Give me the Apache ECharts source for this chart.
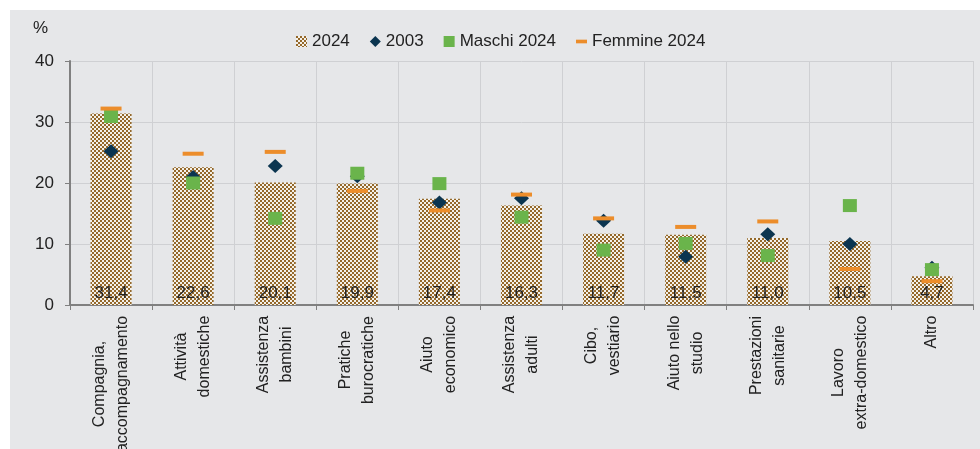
<!DOCTYPE html>
<html>
<head>
<meta charset="utf-8">
<script src="https://cdn.jsdelivr.net/npm/echarts@6/dist/echarts.min.js"></script>
<style>
  body { margin: 0; background: #ffffff; }
  #chart { position: absolute; left: 10px; top: 10px; width: 970px; height: 439px; background: #e6e7e9; }
</style>
</head>
<body>
<div id="chart"></div>
<script>
// categorie e valori (%)
var categories = ['Compagnia,\naccompagnamento', 'Attività\ndomestiche', 'Assistenza\nbambini', 'Pratiche\nburocratiche',
  'Aiuto\neconomico', 'Assistenza\nadulti', 'Cibo,\nvestiario', 'Aiuto nello\nstudio', 'Prestazioni\nsanitarie',
  'Lavoro\nextra-domestico', 'Altro'];
var total2024 = [31.4, 22.6, 20.1, 19.9, 17.4, 16.3, 11.7, 11.5, 11.0, 10.5, 4.7];
var total2003 = [25.2, 21.0, 22.8, 21.1, 16.8, 17.5, 13.8, 7.9, 11.6, 10.0, 6.1];
var maschi2024 = [30.9, 20.0, 14.2, 21.6, 19.9, 14.4, 9.0, 10.1, 8.1, 16.3, 5.8];
var femmine2024 = [32.2, 24.8, 25.1, 18.7, 15.5, 18.1, 14.2, 12.8, 13.7, 5.9, 3.9];
var yTicks = [0, 10, 20, 30, 40];

var font = '"Liberation Sans", Arial, sans-serif';
var labelSize = 16;

// motivo a scacchi delle barre
var pat = document.createElement('canvas');
pat.width = 4; pat.height = 4;
var pc = pat.getContext('2d');
pc.fillStyle = '#f4f1ea'; pc.fillRect(0, 0, 4, 4);
pc.fillStyle = '#94682a'; pc.fillRect(0, 0, 2, 2); pc.fillRect(2, 2, 2, 2);

// etichette asse x: righe centrate tra loro
var mc = document.createElement('canvas').getContext('2d');
mc.font = labelSize + 'px ' + font;
var rich = {};
categories.forEach(function (c, i) {
  var w = 0;
  c.split('\n').forEach(function (l) { w = Math.max(w, mc.measureText(l).width); });
  rich['l' + i] = { width: Math.ceil(w) + 1, align: 'center', fontSize: labelSize, fontFamily: font, lineHeight: 23, color: '#222' };
});

var myChart = echarts.init(document.getElementById('chart'));
var option = {
  animation: false,
  textStyle: { fontFamily: font },
  legend: {
    top: 18,
    left: 281,
    itemGap: 20,
    itemWidth: 11,
    itemHeight: 11,
    textStyle: { fontSize: 17, color: '#222', fontFamily: font },
    data: [
      { name: '2024', icon: 'rect' },
      { name: '2003', icon: 'diamond' },
      { name: 'Maschi 2024', icon: 'rect' },
      { name: 'Femmine 2024', icon: 'path://M0,0 h12 v4 h-12 z' }
    ]
  },
  grid: { left: 60, right: 7, top: 51, bottom: 144, outerBoundsMode: 'none', containLabel: false },
  xAxis: {
    type: 'category',
    data: categories,
    axisLine: { lineStyle: { color: '#808080', width: 2 } },
    axisTick: { show: true, length: 5, lineStyle: { color: '#808080', width: 1 } },
    splitLine: { show: true, lineStyle: { color: '#cfd0d3', width: 1 } },
    axisLabel: {
      interval: 0,
      rotate: 90,
      margin: 10,
      formatter: function (v, i) {
        return v.split('\n').map(function (l) { return '{l' + i + '|' + l + '}'; }).join('\n');
      },
      rich: rich
    }
  },
  yAxis: {
    type: 'value',
    min: yTicks[0],
    max: yTicks[yTicks.length - 1],
    interval: 10,
    name: '%',
    nameGap: 24,
    nameTextStyle: { fontSize: 17, color: '#222', align: 'right', padding: [0, 22, 0, 0], fontFamily: font },
    axisLine: { show: true, lineStyle: { color: '#808080', width: 2 } },
    axisTick: { show: true, length: 5, lineStyle: { color: '#808080', width: 1 } },
    splitLine: { show: true, lineStyle: { color: '#cfd0d3', width: 1 } },
    axisLabel: { margin: 16, fontSize: 17, color: '#222', fontFamily: font }
  },
  series: [
    {
      name: '2024',
      type: 'bar',
      data: total2024,
      barWidth: '50%',
      itemStyle: { color: { image: pat, repeat: 'repeat' } },
      label: {
        show: true,
        position: 'insideBottom',
        distance: 3,
        fontSize: 17,
        fontFamily: font,
        color: '#222',
        formatter: function (p) { return p.value.toFixed(1).replace('.', ','); }
      }
    },
    {
      name: '2003',
      type: 'scatter',
      data: total2003,
      symbol: 'diamond',
      symbolSize: [15, 14],
      itemStyle: { color: '#0b3550', opacity: 1 }
    },
    {
      name: 'Maschi 2024',
      type: 'scatter',
      data: maschi2024,
      symbol: 'rect',
      symbolSize: [14, 13],
      itemStyle: { color: '#6ab44b', opacity: 1 }
    },
    {
      name: 'Femmine 2024',
      type: 'scatter',
      data: femmine2024,
      symbol: 'rect',
      symbolSize: [21, 4],
      itemStyle: { color: '#ec8d2b', opacity: 1 }
    }
  ]
};
myChart.setOption(option);
</script>
</body>
</html>
